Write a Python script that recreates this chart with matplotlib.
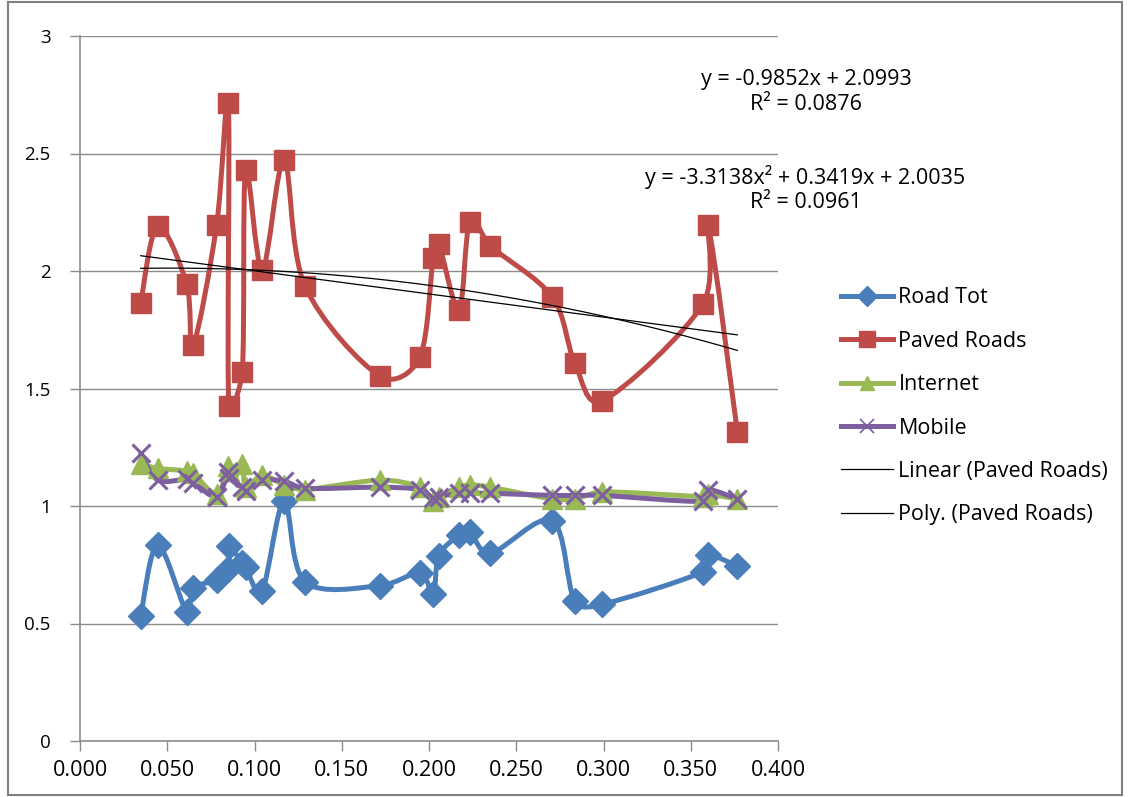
import numpy as np
import matplotlib
matplotlib.use("Agg")
import matplotlib.pyplot as plt
from matplotlib.path import Path
from matplotlib.patches import PathPatch, Rectangle
from matplotlib.lines import Line2D

plt.rcParams['font.family'] = ['Open Sans', 'DejaVu Sans']

# shared x values (one per country)
x = [0.0348, 0.0445, 0.0611, 0.0649, 0.0783, 0.0850, 0.0853, 0.0930, 0.0949,
     0.1044, 0.1170, 0.1289, 0.1718, 0.1947, 0.2024, 0.2056, 0.2172, 0.2234,
     0.2352, 0.2705, 0.2835, 0.2994, 0.3570, 0.3599, 0.3767]

road_tot = [0.533, 0.834, 0.550, 0.650, 0.685, 0.730, 0.830, 0.756, 0.740,
            0.640, 1.021, 0.678, 0.661, 0.714, 0.624, 0.787, 0.877, 0.888,
            0.799, 0.938, 0.596, 0.582, 0.720, 0.791, 0.745]

paved_roads = [1.865, 2.190, 1.945, 1.685, 2.196, 2.713, 1.425, 1.571, 2.430,
               2.004, 2.472, 1.937, 1.553, 1.633, 2.054, 2.115, 1.834, 2.210,
               2.106, 1.891, 1.610, 1.448, 1.860, 2.196, 1.316]

internet = [1.18, 1.16, 1.15, 1.14, 1.05, 1.17, 1.15, 1.18, 1.08,
            1.13, 1.09, 1.07, 1.11, 1.08, 1.02, 1.04, 1.08, 1.09,
            1.08, 1.03, 1.03, 1.06, 1.04, 1.05, 1.03]

mobile = [1.224, 1.111, 1.114, 1.100, 1.040, 1.146, 1.120, 1.080, 1.065,
          1.110, 1.105, 1.075, 1.080, 1.070, 1.033, 1.040, 1.054, 1.054,
          1.054, 1.045, 1.045, 1.045, 1.020, 1.070, 1.030]

# trendline coefficients as printed on the chart
lin_coef = [-0.9852, 2.0993]
poly_coef = [-3.3138, 0.3419, 2.0035]

x_ticks = [0.0, 0.05, 0.1, 0.15, 0.2, 0.25, 0.3, 0.35, 0.4]
y_ticks = [0, 0.5, 1, 1.5, 2, 2.5, 3]


def clamp(v, m):
    n = np.hypot(*v)
    return v * (m / n) if n > m else v


def smooth_path(ax, xs, ys, lim=0.4):
    # excel style smoothed line: catmull-rom bezier, handles clamped
    # to a share of the segment length so short hops don't overshoot
    tr = ax.transData
    pts = tr.transform(np.column_stack([xs, ys]))
    n = len(pts)
    verts = [pts[0]]
    codes = [Path.MOVETO]
    for i in range(n - 1):
        p0 = pts[i - 1] if i > 0 else pts[i]
        p1 = pts[i]
        p2 = pts[i + 1]
        p3 = pts[i + 2] if i + 2 < n else pts[i + 1]
        seg = np.hypot(*(p2 - p1))
        v1 = clamp((p2 - p0) / 6, seg * lim)
        v2 = clamp((p3 - p1) / 6, seg * lim)
        verts += [p1 + v1, p2 - v2, p2]
        codes += [Path.CURVE4] * 3
    back = tr.inverted().transform(np.array(verts))
    return Path(back, codes)


fig = plt.figure(figsize=(11.29, 7.97), dpi=100)
ax = fig.add_axes([80 / 1129, 1 - 741 / 797, 698 / 1129, 705 / 797])
ax.set_xlim(0, 0.4)
ax.set_ylim(0, 3)

series = [
    ("Road Tot", road_tot, "#4A7EBB", "D", 13),
    ("Paved Roads", paved_roads, "#BE4B48", "s", 14),
    ("Internet", internet, "#98B954", "^", 14),
    ("Mobile", mobile, "#7D5FA0", "x", 13),
]

handles = []
for name, ys, col, mk, ms in series:
    ax.add_patch(PathPatch(smooth_path(ax, x, ys), facecolor="none", edgecolor=col,
                           lw=3.6, capstyle="round", joinstyle="round", zorder=3))
    if mk == "x":
        ax.plot(x, ys, ls="none", marker=mk, ms=ms, mew=2.2, color=col, zorder=4)
        h = Line2D([], [], color=col, lw=3.6, marker=mk, ms=10, mew=1.2)
    else:
        ax.plot(x, ys, ls="none", marker=mk, ms=ms, color=col, mec=col, zorder=4)
        h = Line2D([], [], color=col, lw=3.6, marker=mk, ms=10 if mk != "s" else 11)
    handles.append((h, name))

xt = np.linspace(min(x), max(x), 200)
ax.plot(xt, np.polyval(lin_coef, xt), color="black", lw=0.9, zorder=5)
ax.plot(xt, np.polyval(poly_coef, xt), color="black", lw=0.9, zorder=5)
handles.append((Line2D([], [], color="black", lw=0.9), "Linear (Paved Roads)"))
handles.append((Line2D([], [], color="black", lw=0.9), "Poly. (Paved Roads)"))

ax.set_xticks(x_ticks)
ax.set_xticklabels(["%.3f" % v for v in x_ticks])
ax.set_yticks(y_ticks)
ax.set_yticklabels([("%g" % v) for v in y_ticks])
ax.tick_params(axis="both", labelsize=13.5, colors="#000000", length=7, width=1,
               direction="out", color="#8C8C8C")
ax.tick_params(axis="x", labelsize=15.5, pad=7)
ax.tick_params(axis="y", pad=14)
ax.grid(axis="y", color="#8C8C8C", lw=1)
ax.set_axisbelow(True)
for s in ["top", "right"]:
    ax.spines[s].set_visible(False)
for s in ["left", "bottom"]:
    ax.spines[s].set_color("#8C8C8C")
    ax.spines[s].set_linewidth(1.2)

fig.legend([h for h, _ in handles], [n for _, n in handles],
           loc="upper left", bbox_to_anchor=(822 / 1129, 1 - 268 / 797),
           frameon=False, fontsize=15.5, handlelength=2.4, handletextpad=0.25,
           labelspacing=1.04)

fig.text(806 / 1129, 1 - 80 / 797, "y = -0.9852x + 2.0993", ha="center", va="center", fontsize=15.5)
fig.text(806 / 1129, 1 - 105 / 797, "R\u00b2 = 0.0876", ha="center", va="center", fontsize=15.5)
fig.text(805 / 1129, 1 - 177 / 797, "y = -3.3138x\u00b2 + 0.3419x + 2.0035", ha="center", va="center", fontsize=15.5)
fig.text(806 / 1129, 1 - 203 / 797, "R\u00b2 = 0.0961", ha="center", va="center", fontsize=15.5)

fig.patches.append(Rectangle((8 / 1129, 2 / 797), 1114 / 1129, 793 / 797,
                             transform=fig.transFigure, fill=False,
                             edgecolor="#7F7F7F", lw=1.5))

plt.savefig("out.png", dpi=100)
